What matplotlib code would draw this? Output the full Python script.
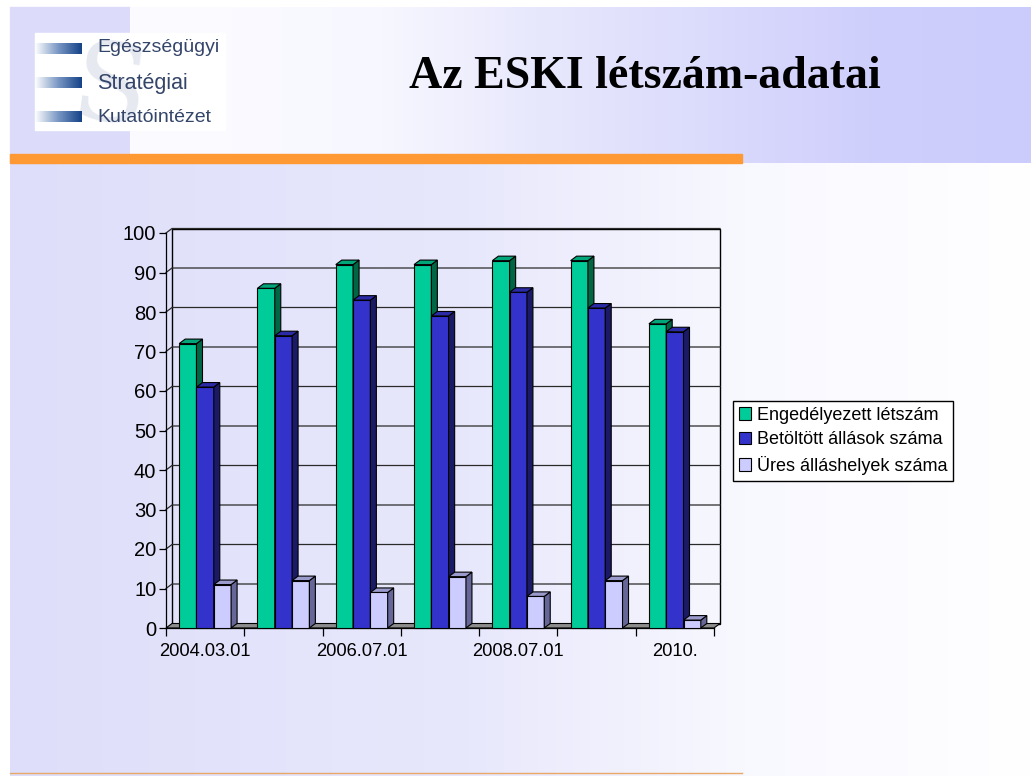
import matplotlib.pyplot as plt
import numpy as np
from matplotlib.patches import Polygon, Rectangle, Patch

# chart data
categories = ['2004.03.01', '', '2006.07.01', '', '2008.07.01', '', '2010.']
engedelyezett = [72, 86, 92, 92, 93, 93, 77]
betoltott = [61, 74, 83, 79, 85, 81, 75]
ures = [11, 12, 9, 13, 8, 12, 2]
series_names = ['Engedélyezett létszám', 'Betöltött állások száma', 'Üres álláshelyek száma']
y_ticks = list(range(0, 101, 10))

title = 'Az ESKI létszám-adatai'
logo_lines = ['Egészségügyi', 'Stratégiai', 'Kutatóintézet']

W, H = 1031, 776
fig = plt.figure(figsize=(W / 100, H / 100), dpi=100)
fig.patch.set_facecolor('white')

# background axes in pixel coordinates
bg = fig.add_axes([0, 0, 1, 1])
bg.set_xlim(0, W)
bg.set_ylim(H, 0)
bg.axis('off')


def hgrad(x0, x1, y0, y1, stops, z=0):
    t = np.linspace(0, 1, 400)
    pos = [s[0] for s in stops]
    cols = np.array([s[1] for s in stops]) / 255.0
    img = np.stack([np.interp(t, pos, cols[:, k]) for k in range(3)], axis=-1)[None, :, :]
    bg.imshow(img, extent=[x0, x1, y1, y0], aspect='auto', zorder=z, interpolation='bilinear')


# slide body
hgrad(10, W, 163, H, [(0, (222, 222, 250)), (0.45, (232, 232, 252)),
                      (0.72, (248, 248, 255)), (1, (255, 255, 255))])
# header band
bg.add_patch(Rectangle((10, 7), 120, 156, color=(220 / 255, 220 / 255, 250 / 255), zorder=1))
hgrad(130, W, 7, 163, [(0, (252, 252, 255)), (0.28, (247, 247, 255)), (0.45, (232, 232, 253)),
                       (0.82, (207, 207, 252)), (1, (204, 204, 252))], z=1)
bg.add_patch(Rectangle((10, 154), 732, 9, color='#ff9933', zorder=2))
bg.plot([10, 742], [773, 773], color='#e8a868', lw=1, zorder=2)

# logo
bg.add_patch(Rectangle((35, 33), 190, 97, color='white', zorder=2))
bg.text(110, 126, 'S', fontsize=78, color='#e6e9f0', family='DejaVu Serif',
        ha='center', va='baseline', zorder=3, rotation=-8)
for yy in [43, 77, 111]:
    hgrad(35, 82, yy, yy + 11, [(0, (255, 255, 255)), (0.5, (120, 150, 195)), (1, (20, 65, 135))], z=4)
logo_y = [48, 83, 118]
logo_size = [14, 15.5, 14]
for txt, yy, fs in zip(logo_lines, logo_y, logo_size):
    bg.text(97, yy, txt, fontsize=fs, color='#34456a', family='Liberation Sans',
            ha='left', va='center', zorder=5)

bg.text(645, 88, title, fontsize=33, fontweight='bold', family='Liberation Serif',
        ha='center', va='baseline', zorder=5)

# chart axes (front plane)
x0, x1, yb, yt = 166, 714, 628, 233
ax = fig.add_axes([x0 / W, 1 - yb / H, (x1 - x0) / W, (yb - yt) / H])
ax.patch.set_alpha(0)
ax.set_xlim(0, len(categories))
ax.set_ylim(0, 100)
for s in ['top', 'right', 'bottom']:
    ax.spines[s].set_visible(False)
ax.spines['left'].set_linewidth(0.9)

n = len(categories)
dx = 6 / ((x1 - x0) / n)
dy = 4.5 / ((yb - yt) / 100)

# back wall and gridlines
ax.add_patch(Rectangle((dx, dy), n, 100, fill=False, edgecolor='black', lw=1, clip_on=False, zorder=1))
for v in y_ticks[1:]:
    ax.plot([0, dx, n + dx], [v, v + dy, v + dy], color='#2a2a2a', lw=0.9, clip_on=False, zorder=1)
# floor
ax.add_patch(Polygon([(0, 0), (n, 0), (n + dx, dy), (dx, dy)], closed=True,
                     facecolor='#8c8c8c', edgecolor='black', lw=0.8, clip_on=False, zorder=2))

bw = 0.221
centers = np.arange(n) + 0.5
series = [engedelyezett, betoltott, ures]
fronts = ['#00cc99', '#3333cc', '#ccccff']
sides = ['#006644', '#1a1a66', '#666699']
tops = ['#00a67a', '#2b2ba8', '#9a9acc']

for j, vals in enumerate(series):
    lefts = centers + (j - 1.5) * bw
    ax.bar(lefts, vals, width=bw, align='edge', color=fronts[j], edgecolor='black',
           lw=0.8, zorder=3 + j, clip_on=False)
    for l, v in zip(lefts, vals):
        ax.add_patch(Polygon([(l + bw, 0), (l + bw + dx, dy), (l + bw + dx, v + dy), (l + bw, v)],
                             closed=True, facecolor=sides[j], edgecolor='black', lw=0.8,
                             clip_on=False, zorder=3 + j))
        ax.add_patch(Polygon([(l, v), (l + bw, v), (l + bw + dx, v + dy), (l + dx, v + dy)],
                             closed=True, facecolor=tops[j], edgecolor='black', lw=0.8,
                             clip_on=False, zorder=3 + j))

ax.set_yticks(y_ticks)
ax.set_yticklabels([str(v) for v in y_ticks], fontsize=14.5, family='Liberation Sans')
ax.tick_params(axis='y', length=5, width=0.9, pad=2)

ax.set_xticks(np.arange(n + 1))
ax.set_xticklabels([])
ax.tick_params(axis='x', which='major', length=6, width=0.9)
ax.set_xticks(centers, minor=True)
ax.set_xticklabels(categories, minor=True, fontsize=13.2, family='Liberation Sans')
ax.tick_params(axis='x', which='minor', length=0, pad=11)
ax.plot([0, n], [0, 0], color='black', lw=0.9, clip_on=False, zorder=2)

handles = [Patch(facecolor=c, edgecolor='black', lw=0.8) for c in fronts]
leg = fig.legend(handles, series_names, loc='upper left', bbox_to_anchor=(733 / W, 1 - 401 / H),
                 frameon=True, fancybox=False, edgecolor='black', framealpha=1,
                 prop={'family': 'Liberation Sans', 'size': 13}, handlelength=0.7,
                 handleheight=0.7, handletextpad=0.3, labelspacing=0.42, borderpad=0.32,
                 borderaxespad=0)
leg.get_frame().set_linewidth(1)

fig.savefig('out.png', dpi=100)
